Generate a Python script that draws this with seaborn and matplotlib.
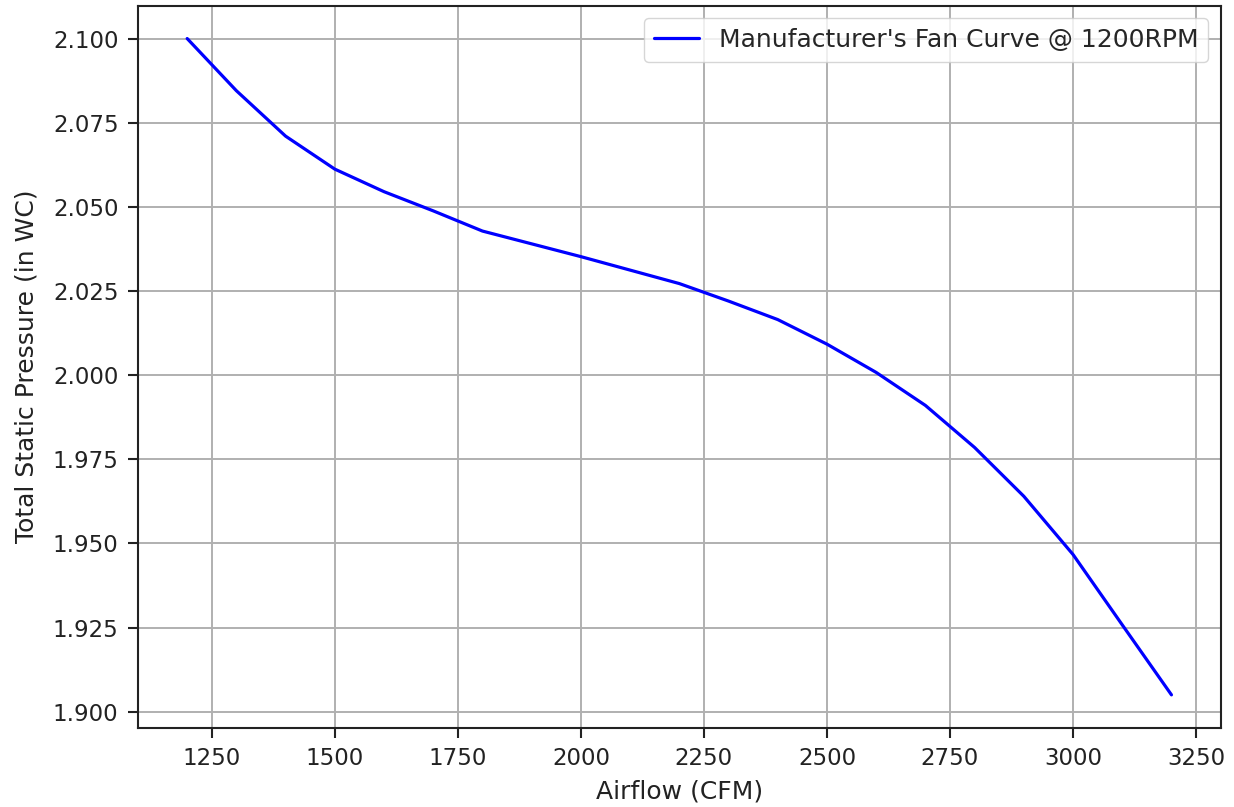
import matplotlib
matplotlib.use("Agg")
import matplotlib.pyplot as plt
import seaborn as sns
import pandas as pd

# Fan curve, every 100 CFM
airflow = [1200, 1300, 1400, 1500, 1600, 1700, 1800, 1900, 2000, 2100, 2200,
           2300, 2400, 2500, 2600, 2700, 2800, 2900, 3000, 3100, 3200]
pressure = [2.1000, 2.0845, 2.0710, 2.0612, 2.0545, 2.0488, 2.0428, 2.0390,
            2.0352, 2.0312, 2.0272, 2.0220, 2.0165, 2.0092, 2.0008, 1.9910,
            1.9785, 1.9640, 1.9467, 1.9258, 1.9050]
curve_label = "Manufacturer's Fan Curve @ 1200RPM"

sns.set_style("ticks")
plt.rcParams['font.family'] = ['DejaVu Sans']
plt.rcParams['font.size'] = 16

df = pd.DataFrame({'Airflow': airflow, 'Pressure': pressure})

fig, ax = plt.subplots(figsize=(12.34, 8.07), dpi=100)
fig.subplots_adjust(left=0.1118, right=0.9892, bottom=0.0983, top=0.9929)

sns.lineplot(data=df, x='Airflow', y='Pressure', color='blue', linewidth=2.3,
             label=curve_label, ax=ax)

ax.set_xlabel('Airflow (CFM)', fontsize=18, color='#222222', labelpad=7)
ax.set_ylabel('Total Static Pressure (in WC)', fontsize=18, color='#222222', labelpad=10)
ax.set_xticks([1250, 1500, 1750, 2000, 2250, 2500, 2750, 3000, 3250])
ax.set_yticks([1.900, 1.925, 1.950, 1.975, 2.000, 2.025, 2.050, 2.075, 2.100])
ax.set_yticklabels(['%.3f' % v for v in ax.get_yticks()])
ax.tick_params(labelsize=16.5, length=7, width=1.5, colors='#222222', pad=7)
ax.grid(True, color='#b0b0b0', linewidth=1.4)
for s in ax.spines.values():
    s.set_linewidth(1.5)
    s.set_color('#222222')
ax.legend(loc='upper right', fontsize=18, framealpha=0.8, edgecolor='#cccccc',
          handlelength=1.8)

plt.savefig('out.png', dpi=100)
